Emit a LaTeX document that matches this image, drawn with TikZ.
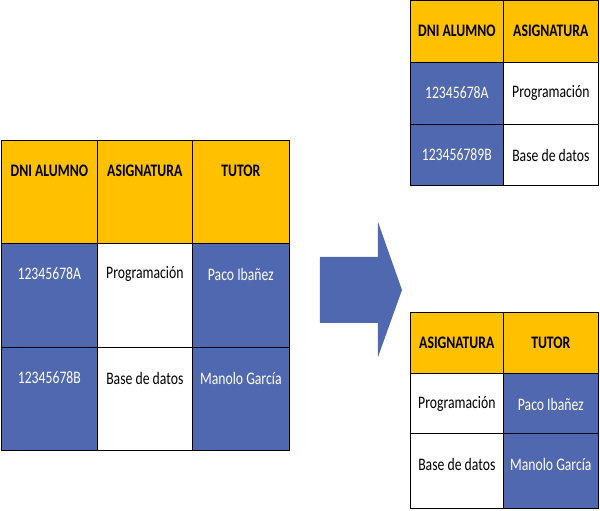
\documentclass[tikz,border=0pt]{standalone}
\usepackage{fontspec}
\setmainfont[FakeStretch=0.78]{Carlito}
\definecolor{hdr}{HTML}{FFC000}
\definecolor{blu}{HTML}{5068B0}
\tikzset{
  cellbox/.style={draw=black, line width=0.6pt, anchor=north west, inner sep=0pt},
  celltext/.style={font=\fontsize{15}{17}\selectfont},
}
% \cell{name}{x}{y}{w}{h}{fill}{text colour}{text}
\newcommand{\cell}[8]{%
  \node[cellbox, fill=#6, minimum width=#4*0.03cm, minimum height=#5*0.03cm] (#1) at (#2*0.03, -#3*0.03) {};
  \node[celltext, text=#7] (#1t) at ([yshift=-31*0.03cm]#1.north) {#8};
}
\begin{document}
\begin{tikzpicture}
  \useasboundingbox (0,0) rectangle (18,-15.33);
  % left table
  \cell{a1}{1}{140}{96}{103}{hdr}{black}{\bfseries DNI ALUMNO}
  \cell{a2}{97}{140}{95}{103}{hdr}{black}{\bfseries ASIGNATURA}
  \cell{a3}{192}{140}{97}{103}{hdr}{black}{\bfseries TUTOR}
  \cell{b1}{1}{243}{96}{104}{blu}{white}{12345678A}
  \cell{b2}{97}{243}{95}{104}{white}{black}{Programación}
  \cell{b3}{192}{243}{97}{104}{blu}{white}{Paco Ibañez}
  \cell{c1}{1}{347}{96}{103}{blu}{white}{12345678B}
  \cell{c2}{97}{347}{95}{103}{white}{black}{Base de datos}
  \cell{c3}{192}{347}{97}{103}{blu}{white}{Manolo García}
  % arrow
  \fill[blu] (320*0.03,-257*0.03) -- (378*0.03,-257*0.03) -- (378*0.03,-222*0.03)
    -- (402*0.03,-290*0.03) -- (378*0.03,-357*0.03) -- (378*0.03,-323*0.03)
    -- (320*0.03,-323*0.03) -- cycle;
  % top right table
  \cell{d1}{410}{0}{93}{62}{hdr}{black}{\bfseries DNI ALUMNO}
  \cell{d2}{503}{0}{95}{62}{hdr}{black}{\bfseries ASIGNATURA}
  \cell{e1}{410}{62}{93}{62}{blu}{white}{12345678A}
  \cell{e2}{503}{62}{95}{62}{white}{black}{Programación}
  \cell{f1}{410}{124}{93}{61}{blu}{white}{123456789B}
  \cell{f2}{503}{124}{95}{61}{white}{black}{Base de datos}
  % bottom right table
  \cell{g1}{410}{312}{93}{61}{hdr}{black}{\bfseries ASIGNATURA}
  \cell{g2}{503}{312}{95}{61}{hdr}{black}{\bfseries TUTOR}
  \cell{h1}{410}{373}{93}{60}{white}{black}{Programación}
  \cell{h2}{503}{373}{95}{60}{blu}{white}{Paco Ibañez}
  \cell{i1}{410}{433}{93}{75}{white}{black}{Base de datos}
  \cell{i2}{503}{433}{95}{75}{blu}{white}{Manolo García}
\end{tikzpicture}
\end{document}
